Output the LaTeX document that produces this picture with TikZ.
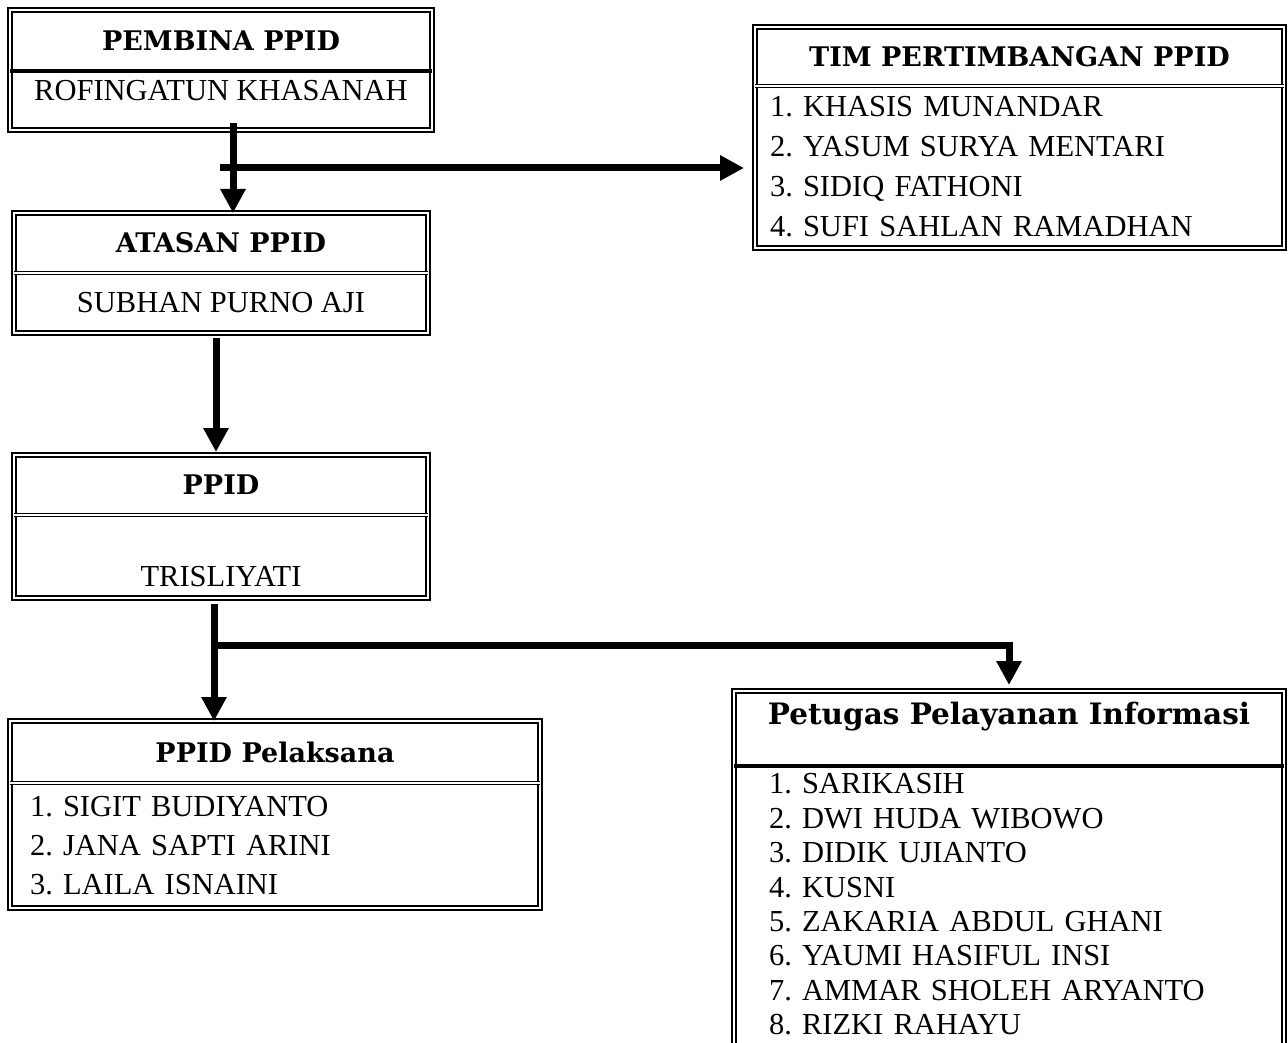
\documentclass[tikz,border=0pt]{standalone}
\usepackage{fontspec}
\setmainfont{Liberation Serif}
\newfontfamily\headfont{DejaVu Serif}
\usetikzlibrary{arrows.meta, positioning, calc}
\frenchspacing

\tikzset{
  cellbox/.style={inner sep=0pt, outer sep=0pt, anchor=north west},
  headtext/.style={cellbox, font=\headfont\bfseries\fontsize{27}{32}\selectfont, align=center},
  nametext/.style={cellbox, font=\fontsize{30.5}{40}\selectfont},
  listtext/.style={cellbox, font=\fontsize{30.5}{40}\selectfont, align=left},
  framebox/.style={draw, double, double distance=1.8pt, line width=1.7pt},
  singlediv/.style={line width=4pt},
  doublediv/.style={double, double distance=1.8pt, line width=1.5pt},
  conn/.style={line width=7pt, -{Triangle[length=24pt,width=24pt]}},
}

\begin{document}
\begin{tikzpicture}[x=1pt, y=1pt]
          \useasboundingbox (0,0) rectangle (1288,-1043);

          \node[headtext, minimum width=422pt, minimum height=61pt] (pembinaHead) at (10,-10) {PEMBINA PPID};
          \node[nametext, minimum width=422pt, minimum height=59pt, text depth=21pt] (pembinaBody) at (pembinaHead.south west) {ROFINGATUN KHASANAH};

          \node[headtext, minimum width=414pt, minimum height=60pt] (atasanHead) at (14,-213) {ATASAN PPID};
          \node[nametext, minimum width=414pt, minimum height=60pt] (atasanBody) at (atasanHead.south west) {SUBHAN PURNO AJI};

          \node[headtext, minimum width=414pt, minimum height=60pt] (ppidHead) at (14,-455) {PPID};
          \node[nametext, minimum width=414pt, minimum height=83pt, text height=61pt] (ppidBody) at (ppidHead.south west) {TRISLIYATI};

          \node[headtext, minimum width=530pt, minimum height=62pt] (pelaksanaHead) at (10,-721) {PPID Pelaksana};
          \node[listtext, minimum width=530pt, minimum height=125pt, text width=490pt, font=\fontsize{30.5}{39}\selectfont] (pelaksanaBody) at (pelaksanaHead.south west) {
            1. SIGIT BUDIYANTO\\
            2. JANA SAPTI ARINI\\
            3. LAILA ISNAINI
          };

          \node[headtext, minimum width=529pt, minimum height=59pt] (timHead) at (755,-27) {TIM PERTIMBANGAN PPID};
          \node[listtext, minimum width=529pt, minimum height=162pt, text width=499pt] (timBody) at (timHead.south west) {
            1. KHASIS MUNANDAR\\
            2. YASUM SURYA MENTARI\\
            3. SIDIQ FATHONI\\
            4. SUFI SAHLAN RAMADHAN
          };

          \node[headtext, minimum width=550pt, minimum height=75pt, text depth=31pt, font=\headfont\bfseries\fontsize{29.5}{34}\selectfont] (petugasHead) at (734,-691) {Petugas Pelayanan Informasi};
          \node[listtext, minimum width=550pt, minimum height=277pt, text width=480pt, font=\fontsize{30.5}{34.4}\selectfont] (petugasBody) at (petugasHead.south west) {
            1. SARIKASIH\\
            2. DWI HUDA WIBOWO\\
            3. DIDIK UJIANTO\\
            4. KUSNI\\
            5. ZAKARIA ABDUL GHANI\\
            6. YAUMI HASIFUL INSI\\
            7. AMMAR SHOLEH ARYANTO\\
            8. RIZKI RAHAYU
          };

          \draw[framebox] (pembinaHead.north west) rectangle (pembinaBody.south east);
          \draw[singlediv] (pembinaHead.south west) -- (pembinaHead.south east);
          \draw[framebox] (atasanHead.north west) rectangle (atasanBody.south east);
          \draw[doublediv] (atasanHead.south west) -- (atasanHead.south east);
          \draw[framebox] (ppidHead.north west) rectangle (ppidBody.south east);
          \draw[doublediv] (ppidHead.south west) -- (ppidHead.south east);
          \draw[framebox] (pelaksanaHead.north west) rectangle (pelaksanaBody.south east);
          \draw[doublediv] (pelaksanaHead.south west) -- (pelaksanaHead.south east);
          \draw[framebox] (timHead.north west) rectangle (timBody.south east);
          \draw[doublediv] (timHead.south west) -- (timHead.south east);
          \draw[framebox] (petugasBody.south west) -- (petugasHead.north west) -- (petugasHead.north east) -- (petugasBody.south east);
          \draw[singlediv] (petugasHead.south west) -- (petugasHead.south east);

          \coordinate (splitA) at ($(pembinaBody.south)+(-1,-38)$);
          \coordinate (splitB) at ($(ppidBody.south)+(-7,-47)$);

          \draw[conn, shorten <=-7pt] ($(pembinaBody.south)+(12,0)$) -- ($(atasanHead.north)+(12,0)$);
          \draw[conn, shorten >=11pt] (splitA) -- (splitA -| timBody.west);
          \draw[conn, shorten <=5pt, shorten >=3pt] ($(atasanBody.south)+(-5,0)$) -- ($(ppidHead.north)+(-5,0)$);
          \draw[conn, shorten <=6pt] ($(ppidBody.south)+(-7,0)$) -- ($(ppidBody.south |- pelaksanaHead.north)+(-7,0)$);
          \draw[conn, shorten >=6pt] (splitB) -| (petugasHead.north);
        \end{tikzpicture}
\end{document}
